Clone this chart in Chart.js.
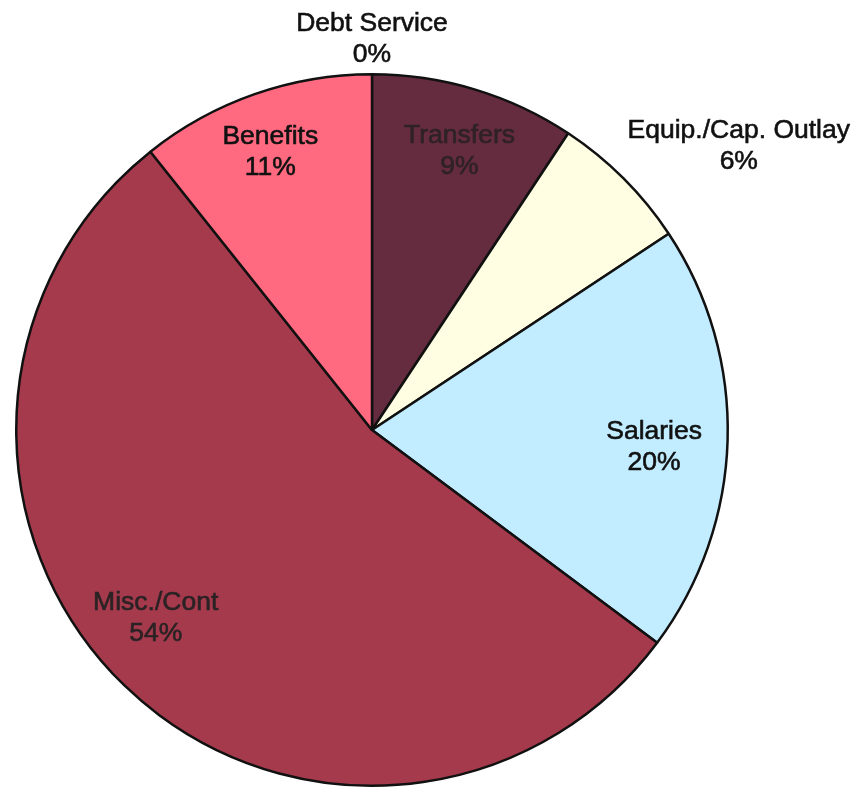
<!DOCTYPE html>
<html>
<head>
<meta charset="utf-8">
<script src="https://cdn.jsdelivr.net/npm/chart.js@4/dist/chart.umd.min.js"></script>
<style>
  html, body { margin: 0; padding: 0; background: #fff; }
  #wrap { width: 859px; height: 788px; }
</style>
</head>
<body>
<div id="wrap"><canvas id="pie"></canvas></div>
<script>
// data (percent of total)
const categories = ['Debt Service', 'Transfers', 'Equip./Cap. Outlay', 'Salaries', 'Misc./Cont', 'Benefits'];
const shares = [0, 9.3, 6.4, 19.5, 54.1, 10.7];
const shownPct = ['0%', '9%', '6%', '20%', '54%', '11%'];

const sliceColors = ['#7a3a4a', '#652b3e', '#fffde2', '#c2ecff', '#a53a4c', '#ff6a80'];
const textColors = ['#111', '#2e2227', '#111', '#111', '#2a2224', '#111'];
// label centres, relative to pie centre, in units of radius
const labelSpots = [[0, -1.10], [0.246, -0.784], [1.031, -0.798], [0.793, 0.048], [-0.608, 0.527], [-0.286, -0.782]];

// draw the two-line labels
const pieLabels = {
  id: 'pieLabels',
  afterDatasetsDraw(chart) {
    const ctx = chart.ctx;
    const arcs = chart.getDatasetMeta(0).data;
    if (!arcs.length) return;
    const cx = arcs[0].x, cy = arcs[0].y, r = arcs[0].outerRadius;
    ctx.save();
    ctx.font = '26.5px "Liberation Sans", Arial, sans-serif';
    ctx.textAlign = 'center';
    ctx.textBaseline = 'middle';
    ctx.lineWidth = 0.6;
    categories.forEach((name, i) => {
      const x = cx + labelSpots[i][0] * r;
      const y = cy + labelSpots[i][1] * r;
      ctx.fillStyle = textColors[i];
      ctx.strokeStyle = textColors[i];
      ctx.fillText(name, x, y - 15);
      ctx.strokeText(name, x, y - 15);
      ctx.fillText(shownPct[i], x, y + 16);
      ctx.strokeText(shownPct[i], x, y + 16);
    });
    ctx.restore();
  }
};

const ctx = document.getElementById('pie').getContext('2d');
new Chart(ctx, {
  type: 'pie',
  data: {
    labels: categories,
    datasets: [{
      data: shares,
      backgroundColor: sliceColors,
      borderColor: '#111',
      borderWidth: 2.5
    }]
  },
  options: {
    responsive: true,
    maintainAspectRatio: false,
    animation: false,
    layout: { padding: { top: 73, bottom: 1, left: 15, right: 130 } },
    plugins: {
      legend: { display: false },
      tooltip: { enabled: false }
    }
  },
  plugins: [pieLabels]
});
</script>
</body>
</html>
